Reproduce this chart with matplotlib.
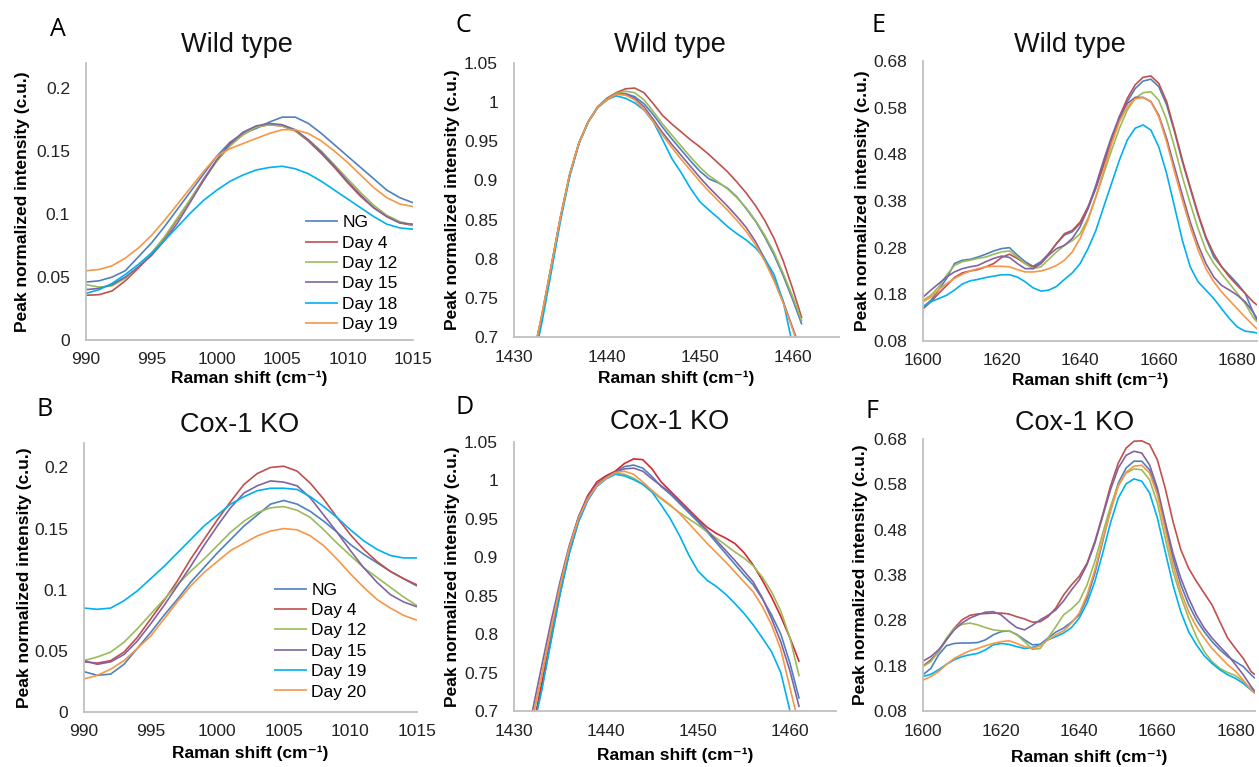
import matplotlib
matplotlib.use("Agg")
import matplotlib.pyplot as plt

W, H = 1259, 767

# ---------------- data ----------------
series_wt = ["NG", "Day 4", "Day 12", "Day 15", "Day 18", "Day 19"]
series_ko = ["NG", "Day 4", "Day 12", "Day 15", "Day 19", "Day 20"]
colors = ["#4F81BD", "#C0504D", "#9BBB59", "#8064A2", "#00B0F0", "#F79646"]
colors_D = ["#4F81BD", "#D8262E", "#9BBB59", "#8064A2", "#00B0F0", "#F79646"]

A_x = list(range(990, 1016))
A_NG = [0.046,0.047,0.050,0.055,0.066,0.077,0.090,0.104,0.118,0.132,0.146,0.157,0.164,0.168,0.173,0.177,0.177,0.172,0.164,0.155,0.146,0.137,0.128,0.119,0.113,0.109]
A_D4 = [0.0355,0.036,0.039,0.047,0.057,0.068,0.081,0.096,0.112,0.128,0.143,0.155,0.163,0.169,0.171,0.170,0.166,0.158,0.148,0.137,0.125,0.114,0.105,0.098,0.093,0.091]
A_D12 = [0.044,0.042,0.043,0.049,0.058,0.069,0.082,0.097,0.112,0.127,0.142,0.154,0.163,0.169,0.171,0.170,0.166,0.159,0.150,0.139,0.128,0.117,0.107,0.099,0.094,0.091]
A_D15 = [0.040,0.041,0.044,0.050,0.058,0.067,0.079,0.093,0.110,0.127,0.143,0.156,0.165,0.170,0.172,0.171,0.167,0.159,0.149,0.138,0.126,0.115,0.105,0.098,0.093,0.092]
A_D18 = [0.037,0.040,0.045,0.052,0.060,0.069,0.079,0.090,0.101,0.111,0.119,0.126,0.131,0.135,0.137,0.138,0.136,0.132,0.126,0.119,0.112,0.105,0.098,0.092,0.089,0.088]
A_D19 = [0.055,0.056,0.059,0.065,0.073,0.083,0.095,0.108,0.121,0.134,0.146,0.152,0.156,0.160,0.164,0.167,0.167,0.164,0.158,0.150,0.141,0.131,0.121,0.113,0.108,0.106]

B_x = list(range(990, 1016))
B_NG = [0.033,0.030,0.031,0.039,0.052,0.065,0.079,0.092,0.106,0.118,0.130,0.141,0.152,0.161,0.170,0.173,0.170,0.164,0.156,0.147,0.137,0.129,0.122,0.115,0.109,0.103]
B_D4 = [0.041,0.040,0.042,0.049,0.061,0.076,0.091,0.107,0.125,0.141,0.157,0.172,0.186,0.195,0.200,0.201,0.197,0.187,0.174,0.159,0.145,0.133,0.123,0.115,0.109,0.104]
B_D12 = [0.042,0.045,0.049,0.057,0.068,0.080,0.092,0.104,0.115,0.125,0.136,0.147,0.156,0.163,0.167,0.168,0.165,0.159,0.149,0.138,0.128,0.118,0.110,0.102,0.094,0.087]
B_D15 = [0.042,0.039,0.041,0.047,0.058,0.072,0.087,0.103,0.119,0.136,0.152,0.167,0.179,0.185,0.189,0.188,0.185,0.175,0.161,0.147,0.132,0.118,0.106,0.096,0.090,0.086]
B_D19 = [0.085,0.084,0.085,0.091,0.099,0.109,0.119,0.130,0.141,0.152,0.161,0.170,0.176,0.181,0.183,0.183,0.182,0.176,0.168,0.159,0.149,0.140,0.133,0.128,0.126,0.126]
B_D20 = [0.027,0.030,0.035,0.042,0.052,0.062,0.076,0.090,0.103,0.114,0.123,0.132,0.138,0.144,0.148,0.150,0.149,0.144,0.136,0.125,0.113,0.102,0.092,0.085,0.079,0.075]

C_x = list(range(1432, 1462))
C_NG = [0.668,0.724,0.787,0.851,0.907,0.948,0.975,0.993,1.003,1.010,1.011,1.007,0.998,0.984,0.968,0.953,0.939,0.925,0.912,0.902,0.897,0.890,0.879,0.864,0.848,0.828,0.805,0.778,0.748,0.716]
C_D4 = [0.672,0.728,0.790,0.853,0.908,0.948,0.975,0.994,1.005,1.012,1.017,1.018,1.012,0.998,0.983,0.972,0.962,0.952,0.943,0.933,0.922,0.911,0.898,0.884,0.868,0.849,0.826,0.797,0.762,0.724]
C_D12 = [0.672,0.728,0.790,0.853,0.908,0.948,0.975,0.994,1.004,1.011,1.014,1.012,1.003,0.988,0.972,0.958,0.944,0.930,0.917,0.906,0.898,0.889,0.878,0.865,0.849,0.830,0.808,0.781,0.752,0.720]
C_D15 = [0.670,0.726,0.789,0.852,0.907,0.948,0.975,0.993,1.003,1.010,1.010,1.005,0.994,0.978,0.961,0.946,0.932,0.918,0.904,0.891,0.879,0.867,0.854,0.840,0.822,0.800,0.774,0.745,0.712,0.680]
C_D18 = [0.662,0.718,0.782,0.848,0.905,0.947,0.975,0.993,1.003,1.008,1.005,0.999,0.990,0.975,0.952,0.928,0.910,0.890,0.873,0.862,0.852,0.841,0.832,0.824,0.814,0.800,0.780,0.745,0.690,0.640]
C_D19 = [0.672,0.728,0.790,0.853,0.908,0.948,0.975,0.993,1.003,1.010,1.009,1.003,0.991,0.975,0.958,0.942,0.927,0.913,0.899,0.886,0.874,0.862,0.849,0.835,0.818,0.797,0.772,0.743,0.710,0.675]

D_x = list(range(1432, 1462))
D_NG = [0.675,0.728,0.790,0.852,0.905,0.946,0.974,0.993,1.004,1.011,1.018,1.020,1.016,1.005,0.992,0.982,0.970,0.958,0.946,0.933,0.919,0.905,0.891,0.877,0.864,0.846,0.825,0.800,0.762,0.716]
D_D4 = [0.675,0.735,0.800,0.860,0.912,0.952,0.980,0.998,1.006,1.012,1.022,1.028,1.027,1.015,0.998,0.986,0.974,0.962,0.950,0.939,0.931,0.925,0.918,0.906,0.890,0.870,0.848,0.823,0.795,0.764]
D_D12 = [0.690,0.745,0.805,0.862,0.912,0.950,0.976,0.993,1.003,1.009,1.008,1.003,0.995,0.985,0.976,0.967,0.958,0.950,0.942,0.933,0.925,0.916,0.907,0.899,0.889,0.874,0.855,0.830,0.795,0.745]
D_D15 = [0.700,0.758,0.815,0.868,0.915,0.952,0.978,0.995,1.004,1.011,1.015,1.016,1.012,1.002,0.993,0.984,0.972,0.960,0.948,0.935,0.922,0.909,0.896,0.882,0.868,0.847,0.820,0.790,0.752,0.705]
D_D19 = [0.672,0.726,0.790,0.852,0.905,0.946,0.974,0.992,1.002,1.008,1.006,1.001,0.995,0.985,0.968,0.950,0.928,0.903,0.882,0.870,0.862,0.852,0.840,0.827,0.812,0.795,0.777,0.750,0.700,0.650]
D_D20 = [0.690,0.745,0.805,0.862,0.912,0.950,0.976,0.993,1.003,1.010,1.012,1.008,0.998,0.987,0.977,0.968,0.957,0.944,0.931,0.918,0.906,0.894,0.881,0.868,0.855,0.836,0.812,0.780,0.730,0.680]

EF_x = list(range(1600, 1685, 2)) + [1685]
E_NG = [0.153,0.167,0.189,0.214,0.246,0.253,0.255,0.260,0.266,0.273,0.278,0.280,0.264,0.250,0.240,0.250,0.267,0.289,0.307,0.314,0.332,0.364,0.407,0.457,0.507,0.554,0.593,0.621,0.637,0.641,0.625,0.586,0.529,0.464,0.407,0.350,0.300,0.260,0.239,0.221,0.203,0.182,0.142,0.124]
E_D4 = [0.149,0.164,0.182,0.199,0.216,0.226,0.230,0.233,0.239,0.246,0.259,0.266,0.257,0.246,0.239,0.246,0.267,0.289,0.310,0.317,0.335,0.368,0.410,0.461,0.511,0.561,0.600,0.629,0.645,0.648,0.632,0.593,0.532,0.468,0.410,0.353,0.303,0.267,0.239,0.217,0.199,0.182,0.164,0.157]
E_D12 = [0.167,0.178,0.196,0.221,0.242,0.250,0.253,0.257,0.260,0.266,0.271,0.273,0.260,0.246,0.235,0.239,0.255,0.271,0.285,0.295,0.310,0.343,0.389,0.439,0.489,0.536,0.575,0.600,0.612,0.614,0.596,0.554,0.496,0.432,0.375,0.321,0.275,0.246,0.224,0.203,0.182,0.160,0.131,0.121]
E_D15 = [0.174,0.189,0.203,0.217,0.228,0.235,0.239,0.242,0.250,0.257,0.262,0.259,0.246,0.235,0.235,0.246,0.264,0.278,0.285,0.300,0.325,0.364,0.414,0.468,0.518,0.561,0.589,0.602,0.602,0.593,0.564,0.514,0.453,0.393,0.335,0.286,0.246,0.217,0.199,0.189,0.178,0.164,0.142,0.128]
E_D18 = [0.153,0.164,0.171,0.178,0.189,0.202,0.209,0.212,0.216,0.219,0.222,0.222,0.217,0.207,0.194,0.187,0.189,0.197,0.212,0.226,0.246,0.278,0.317,0.368,0.418,0.468,0.511,0.536,0.543,0.532,0.496,0.439,0.368,0.296,0.239,0.207,0.189,0.171,0.149,0.128,0.110,0.101,0.099,0.097]
E_D19 = [0.164,0.174,0.190,0.203,0.214,0.223,0.230,0.235,0.239,0.240,0.240,0.239,0.233,0.228,0.228,0.230,0.235,0.242,0.253,0.271,0.300,0.339,0.389,0.446,0.503,0.550,0.582,0.599,0.602,0.593,0.561,0.507,0.443,0.382,0.325,0.275,0.235,0.207,0.185,0.167,0.149,0.131,0.114,0.106]

F_NG = [0.160,0.174,0.204,0.224,0.229,0.230,0.230,0.231,0.237,0.248,0.255,0.257,0.249,0.237,0.226,0.227,0.241,0.254,0.263,0.276,0.292,0.329,0.384,0.454,0.524,0.583,0.616,0.631,0.631,0.612,0.565,0.491,0.417,0.359,0.315,0.281,0.255,0.233,0.215,0.200,0.189,0.178,0.160,0.152]
F_D4 = [0.179,0.193,0.211,0.237,0.263,0.281,0.291,0.294,0.295,0.296,0.296,0.294,0.288,0.283,0.276,0.277,0.288,0.307,0.336,0.358,0.377,0.406,0.454,0.513,0.576,0.627,0.660,0.675,0.676,0.668,0.634,0.572,0.498,0.436,0.395,0.366,0.340,0.314,0.277,0.241,0.218,0.196,0.167,0.160]
F_D12 = [0.178,0.189,0.211,0.241,0.263,0.271,0.274,0.270,0.264,0.259,0.257,0.257,0.248,0.233,0.216,0.218,0.241,0.266,0.292,0.305,0.322,0.358,0.410,0.472,0.531,0.579,0.605,0.614,0.612,0.590,0.539,0.461,0.388,0.333,0.285,0.244,0.211,0.189,0.174,0.165,0.158,0.145,0.129,0.121]
F_D15 = [0.190,0.200,0.215,0.237,0.259,0.274,0.285,0.292,0.298,0.299,0.292,0.277,0.264,0.259,0.269,0.281,0.291,0.303,0.323,0.347,0.369,0.403,0.450,0.509,0.568,0.616,0.644,0.653,0.649,0.623,0.572,0.498,0.428,0.373,0.329,0.292,0.263,0.241,0.222,0.204,0.182,0.160,0.134,0.123]
F_D19 = [0.156,0.161,0.171,0.183,0.193,0.200,0.204,0.207,0.215,0.226,0.229,0.227,0.222,0.218,0.220,0.227,0.237,0.244,0.252,0.264,0.285,0.318,0.366,0.428,0.495,0.550,0.581,0.592,0.587,0.561,0.506,0.432,0.358,0.299,0.255,0.226,0.202,0.185,0.171,0.160,0.152,0.141,0.126,0.119]
F_D20 = [0.148,0.156,0.167,0.183,0.196,0.205,0.213,0.218,0.224,0.229,0.233,0.235,0.229,0.222,0.218,0.224,0.237,0.248,0.257,0.274,0.296,0.336,0.391,0.458,0.520,0.576,0.607,0.620,0.622,0.605,0.557,0.480,0.403,0.344,0.299,0.266,0.241,0.218,0.200,0.182,0.168,0.148,0.126,0.119]

A_ticks_x = [990, 995, 1000, 1005, 1010, 1015]
A_ticks_y = [0, 0.05, 0.1, 0.15, 0.2]
A_ticklabels_y = ["0", "0.05", "0.1", "0.15", "0.2"]
C_ticks_x = [1430, 1440, 1450, 1460]
C_ticks_y = [0.7, 0.75, 0.8, 0.85, 0.9, 0.95, 1.0, 1.05]
C_ticklabels_y = ["0.7", "0.75", "0.8", "0.85", "0.9", "0.95", "1", "1.05"]
E_ticks_x = [1600, 1620, 1640, 1660, 1680]
E_ticks_y = [0.08, 0.18, 0.28, 0.38, 0.48, 0.58, 0.68]
E_ticklabels_y = ["0.08", "0.18", "0.28", "0.38", "0.48", "0.58", "0.68"]

# ---------------- drawing ----------------
plt.rcParams["font.family"] = ["Liberation Sans", "DejaVu Sans"]
fig = plt.figure(figsize=(W / 100, H / 100), dpi=100)


def px(x, y):
    return x / W, 1 - y / H


def make_ax(l, t, r, b):
    return fig.add_axes([l / W, 1 - b / H, (r - l) / W, (b - t) / H])


SP = "#BFBFBF"


def style(ax, xlim, ylim, xt, yt, ytl):
    ax.set_xlim(*xlim)
    ax.set_ylim(*ylim)
    ax.set_xticks(xt)
    ax.set_xticklabels([str(v) for v in xt])
    ax.set_yticks(yt)
    ax.set_yticklabels(ytl)
    for s in ["top", "right"]:
        ax.spines[s].set_visible(False)
    for s in ["left", "bottom"]:
        ax.spines[s].set_color(SP)
        ax.spines[s].set_linewidth(1.3)
    ax.tick_params(axis="both", length=0, labelsize=12.5, colors="#222222")
    ax.tick_params(axis="y", pad=11.5)
    ax.tick_params(axis="x", pad=9)
    ax.patch.set_alpha(0)


panels = [
    ("A", "Wild type", (86, 63, 413, 340), A_x, [A_NG, A_D4, A_D12, A_D15, A_D18, A_D19], series_wt, colors,
     (990, 1015), (0, 0.22), A_ticks_x, A_ticks_y, A_ticklabels_y),
    ("B", "Cox-1 KO", (84, 443, 417, 712), B_x, [B_NG, B_D4, B_D12, B_D15, B_D19, B_D20], series_ko, colors,
     (990, 1015), (0, 0.22), A_ticks_x, A_ticks_y, A_ticklabels_y),
    ("C", "Wild type", (514, 63, 839, 337), C_x, [C_NG, C_D4, C_D12, C_D15, C_D18, C_D19], series_wt, colors,
     (1430, 1465), (0.7, 1.05), C_ticks_x, C_ticks_y, C_ticklabels_y),
    ("D", "Cox-1 KO", (514, 442, 836, 711), D_x, [D_NG, D_D4, D_D12, D_D15, D_D19, D_D20], series_ko, colors_D,
     (1430, 1465), (0.7, 1.05), C_ticks_x, C_ticks_y, C_ticklabels_y),
    ("E", "Wild type", (923, 61, 1257, 341), EF_x, [E_NG, E_D4, E_D12, E_D15, E_D18, E_D19], series_wt, colors,
     (1600, 1685), (0.08, 0.68), E_ticks_x, E_ticks_y, E_ticklabels_y),
    ("F", "Cox-1 KO", (923, 439, 1255, 711), EF_x, [F_NG, F_D4, F_D12, F_D15, F_D19, F_D20], series_ko, colors,
     (1600, 1685), (0.08, 0.68), E_ticks_x, E_ticks_y, E_ticklabels_y),
]

letter_pos = {"A": (58, 29), "B": (45, 410), "C": (463, 25), "D": (465, 408), "E": (879, 25), "F": (872, 411)}
title_pos = {"A": (237, 45), "B": (240, 425), "C": (670, 45), "D": (670, 422), "E": (1070, 45), "F": (1075, 423)}
ylab_x = {"A": 23, "B": 25, "C": 453, "D": 453, "E": 862, "F": 861}
xlab_y = {"A": 378, "B": 753, "C": 378, "D": 755, "E": 380, "F": 757}

axes = {}
for (let, title, box, xs, ys, names, cols, xlim, ylim, xt, yt, ytl) in panels:
    l, t, r, b = box
    ax = make_ax(l, t, r, b)
    for yv, name, c in zip(ys, names, cols):
        ax.plot(xs, yv, color=c, lw=1.2, label=name, solid_capstyle="butt")
    style(ax, xlim, ylim, xt, yt, ytl)
    axes[let] = ax
    fig.text(*px(*letter_pos[let]), let, fontsize=18, family=["Open Sans", "DejaVu Sans"],
             ha="center", va="center")
    fig.text(*px(*title_pos[let]), title, fontsize=19.5, ha="center", va="center", color="#111111")
    fig.text(*px(ylab_x[let], (t + b) / 2), "Peak normalized intensity (c.u.)", rotation=90,
             fontsize=12.5, fontweight="bold", ha="center", va="center")
    fig.text(*px((l + r) / 2, xlab_y[let]), "Raman shift (cm\u207b\u00b9)", fontsize=12.5,
             fontweight="bold", ha="center", va="center",
             family=["Liberation Sans", "DejaVu Sans"])

legkw = dict(frameon=False, fontsize=12.5, handlelength=1.9, handletextpad=0.25,
             labelspacing=0.3, borderpad=0, borderaxespad=0, loc="upper left")
axes["A"].legend(bbox_to_anchor=(0.67, 0.451), **legkw)
axes["B"].legend(bbox_to_anchor=(0.571, 0.481), **legkw)

fig.savefig("out.png", dpi=100)
